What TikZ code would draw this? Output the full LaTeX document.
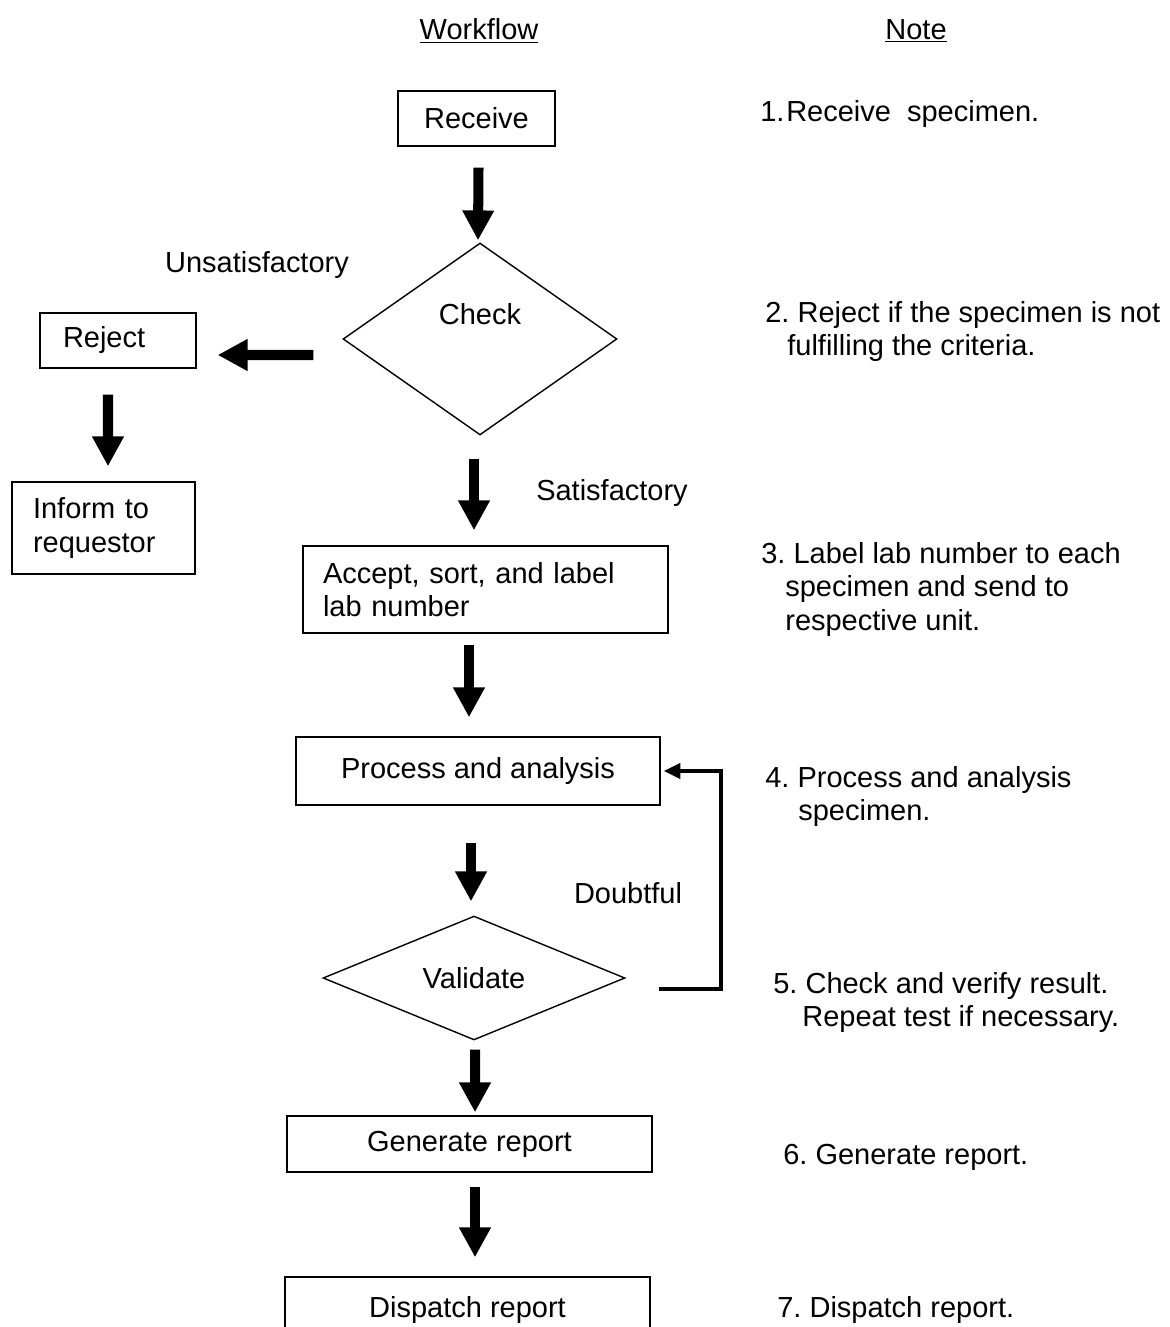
\documentclass[tikz,border=0pt]{standalone}
\usepackage{fontspec}
\setmainfont{Liberation Sans}
\frenchspacing
\usetikzlibrary{arrows.meta,shapes.geometric,calc}

\begin{document}
\begin{tikzpicture}[
  x=0.02cm, y=-0.02cm,
  font=\fontsize{16.5}{19}\selectfont,
  box/.style={draw, line width=0.8pt, inner sep=0pt, align=center},
  decide/.style={draw, diamond, line width=0.8pt, inner sep=0pt},
  fat/.style={-{Triangle[length=17pt, width=17pt]}, line width=5.7pt},
  back/.style={-{Triangle[length=9.5pt, width=8.5pt]}, line width=2.4pt},
  note/.style={anchor=north west, inner sep=0pt, align=left},
]
\useasboundingbox (0,0) rectangle (1169,1327);

% headings
\node (hflow) at (479,31) {\underline{Workflow}};
\node (hnote) at (916,31) {\underline{Note}};

% workflow
\node[box, minimum width=3.14cm, minimum height=1.1cm] (receive) at (476.5,118.5) {Receive};
\node[decide, minimum width=5.48cm, minimum height=3.84cm, text depth=29pt] (check) at (480,339) {Check};
\node[box, align=left, text width=2.2cm, inner xsep=0.46cm, minimum height=1.1cm] (reject) at (118,340.5) {Reject};
\node[box, align=left, text width=2.82cm, inner xsep=0.42cm, minimum height=1.84cm] (inform) at (103.5,528) {Inform to\\requestor};
\node[box, align=left, text width=6.5cm, inner xsep=0.4cm, minimum height=1.74cm] (accept) at (485.5,589.5) {Accept, sort, and label\\lab number};
\node[box, minimum width=7.28cm, minimum height=1.36cm] (process) at (478,771) {Process and analysis};
\node[decide, minimum width=6.04cm, minimum height=2.04cm] (validate) at (474,978) {Validate};
\node[box, minimum width=7.3cm, minimum height=1.12cm] (generate) at (469.5,1144) {Generate report};
\node[box, minimum width=7.3cm, minimum height=1.32cm] (dispatch) at (467.5,1310) {Dispatch report};

\node (unsat) at (257,265) {Unsatisfactory};
\node (sat) at (612,493) {Satisfactory};
\node (doubt) at (628,893) {Doubtful};

\draw[fat] ($(receive.south)+(2,21)$) -- ($(check.north)+(-2,-2)$);
\draw[fat] ($(check.west)+(-29,16)$) -- ($(reject.east)+(21,14.5)$);
\draw[fat] ($(reject.south)+(-10,26)$) -- ($(inform.north)+(4.5,-15)$);
\draw[fat] ($(check.south)+(-6,23)$) -- ($(accept.north)+(-11.5,-15)$);
\draw[fat] ($(accept.south)+(-16.5,11)$) -- ($(process.north)+(-9,-19)$);
\draw[fat] ($(process.south)+(-7,37)$) -- ($(validate.north)+(-3,-14)$);
\draw[fat] ($(validate.south)+(1,9)$) -- ($(generate.north)+(5.5,-3)$);
\draw[fat] ($(generate.south)+(5.5,14)$) -- ($(dispatch.north)+(7.5,-19)$);
\draw[back] ($(validate.east)+(33,11)$) -| ($(process.east)+(60,0)$) -- ($(process.east)+(3,0)$);

% notes
\node[note] (n1) at (760,100) {1.\kern1pt Receive\ \ specimen.};
\node[note] (n2) at (765,301) {2. Reject if the specimen is not\\\hspace*{0.44cm}fulfilling the criteria.};
\node[note] (n3) at (761,542) {3. Label lab number to each\\\hspace*{0.48cm}specimen and send to\\\hspace*{0.48cm}respective unit.};
\node[note] (n4) at (765,766) {4. Process and analysis\\\hspace*{0.66cm}specimen.};
\node[note] (n5) at (773,972) {5. Check and verify result.\\\hspace*{0.58cm}Repeat test if necessary.};
\node[note] (n6) at (783,1144) {6. Generate report.};
\node[note] (n7) at (777,1296) {7. Dispatch report.};
\end{tikzpicture}
\end{document}
